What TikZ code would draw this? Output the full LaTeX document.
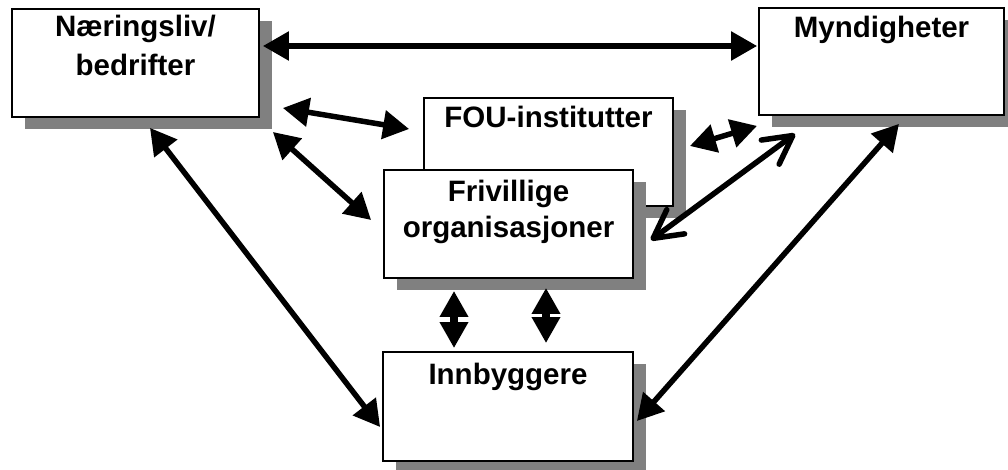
\documentclass[tikz,border=0pt]{standalone}
\usepackage{fontspec}
\setmainfont{Liberation Sans}
\usetikzlibrary{arrows.meta,shadows}
\definecolor{shadowgray}{HTML}{808080}
\begin{document}
\begin{tikzpicture}[x=1pt,y=-1pt,
  box/.style={draw=black,line width=1.8pt,fill=white,inner sep=0pt,
    drop shadow={shadow xshift=13pt,shadow yshift=-12pt,fill=shadowgray,opacity=1}},
  lbl/.style={anchor=base,inner sep=0pt,font=\fontsize{29.5}{35}\selectfont\bfseries},
  arr/.style={line width=5.5pt,{Triangle[length=26pt,width=28pt]}-{Triangle[length=26pt,width=28pt]}},
  varr/.style={line width=8pt,{Triangle[length=26pt,width=27pt]}-{Triangle[length=26pt,width=27pt]}},
  oarr/.style={line width=5.5pt,line cap=round,{Straight Barb[length=28pt,width=30pt,round]}-{Straight Barb[length=28pt,width=30pt,round]}}]
\useasboundingbox (0,0) rectangle (1008,470);
% boxes
\node[box,minimum width=247pt,minimum height=108pt] (N) at (135.5,63) {};
\node[box,minimum width=245pt,minimum height=107pt] (M) at (881.5,61.5) {};
\node[box,minimum width=249pt,minimum height=108pt] (F) at (548.5,152) {};
\node[box,minimum width=249pt,minimum height=108pt] (V) at (508.5,224) {};
\node[box,minimum width=250pt,minimum height=109pt] (I) at (508,406.5) {};
% labels
\node[lbl] (Nt1) at (N.center |- 0,37) {Næringsliv/};
\node[lbl] (Nt2) at (N.center |- 0,76) {bedrifter};
\node[lbl] (Mt) at (M.center |- 0,38) {Myndigheter};
\node[lbl] (Ft) at (F.center |- 0,128) {FOU-institutter};
\node[lbl] (Vt1) at (V.center |- 0,202) {Frivillige};
\node[lbl] (Vt2) at (V.center |- 0,237) {organisasjoner};
\node[lbl] (It) at (I.center |- 0,384) {Innbyggere};
% connectors
\draw[arr] ([shift={(3,-17)}]N.east) -- ([shift={(-1,-15.5)}]M.west);
\draw[arr] ([shift={(23,45)}]N.east) -- ([shift={(-14,-23)}]F.west);
\draw[arr] ([shift={(13,69)}]N.east) -- ([shift={(-12,-4)}]V.west);
\draw[arr] ([shift={(14.5,10)}]N.south) -- ([shift={(-2,20.5)}]I.west);
\draw[arr] ([shift={(16,-6)}]F.east) -- ([shift={(-124.5,10)}]M.south);
\draw[oarr] ([shift={(17,16)}]V.east) -- ([shift={(-86.5,18)}]M.south);
\draw[arr] ([shift={(17.5,8)}]M.south) -- ([shift={(3,14.5)}]I.east);
\draw[varr] ([shift={(-54.5,12)}]V.south) -- ([shift={(-54,-3)}]I.north);
\draw[varr] ([shift={(37.5,9)}]V.south) -- ([shift={(38,-8)}]I.north);
\end{tikzpicture}
\end{document}
